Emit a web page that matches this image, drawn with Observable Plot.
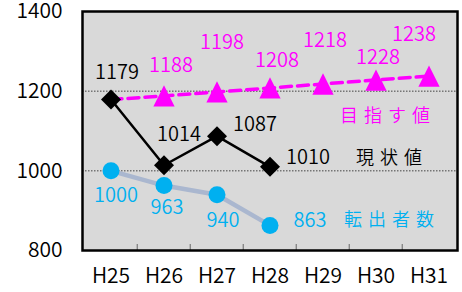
<!DOCTYPE html>
<html><head><meta charset="utf-8">
<script src="https://cdn.jsdelivr.net/npm/d3@7"></script>
<script src="https://cdn.jsdelivr.net/npm/@observablehq/plot@0.6"></script>
<style>body{margin:0;background:#fff} svg{display:block}</style>
</head><body><div id="chart"></div>
<script>
const years = ["H25","H26","H27","H28","H29","H30","H31"];
const targetValues = [1179,1188,1198,1208,1218,1228,1238];
const currentValues = [1179,1014,1087,1010];
const outflowValues = [1000,963,940,863];
const yTicks = [800,1000,1200,1400];
const gridValues = [1000,1200];
const seriesNames = ["目指す値","現状値","転出者数"];

const target = targetValues.map((v,i)=>({year:years[i], value:v, i}));
const current = currentValues.map((v,i)=>({year:years[i], value:v, i}));
const outflow = outflowValues.map((v,i)=>({year:years[i], value:v, i}));

const MAG = "#ff00ff", BLUE = "#00b0f0", FONT = "Noto Sans CJK JP";
const W = 462, H = 292, ML = 82, MR = 5, MT = 11, MB = 42;
const bw = (W - ML - MR) / years.length;

const triangle = {draw(ctx, size){ const h = Math.sqrt(size) * 0.6; ctx.moveTo(0,-h); ctx.lineTo(h,h); ctx.lineTo(-h,h); ctx.closePath(); }};

function lab(data, year, dx, dy, fill, fontSize=20) {
  return Plot.text(data.filter(d => d.year === year), {x:"year", y:"value", text: d => String(d.value), dx, dy, fill, fontSize, fontFamily: FONT});
}

const chart = Plot.plot({
  width: W, height: H,
  marginLeft: ML, marginRight: MR, marginTop: MT, marginBottom: MB,
  style: {fontFamily: FONT, fontSize: "21px", fontWeight: 350, color: "black", background: "white"},
  x: {type:"band", domain: years, padding: 0, tickSize: 0, tickPadding: 18, label: null},
  y: {domain: [800,1400], ticks: yTicks, tickSize: 0, tickPadding: 20, label: null, tickFormat: d => String(d)},
  marks: [
    Plot.frame({fill: "#d9d9d9"}),
    Plot.ruleY(gridValues, {stroke: "#444", strokeWidth: 1, strokeDasharray: "1.5,1.5"}),
    Plot.ruleX(years.slice(1), {x: d => d, dx: -bw/2, y1: 800, y2: 815, stroke: "#666", strokeWidth: 1}),
    Plot.line(outflow, {x:"year", y:"value", stroke:"#aab7cf", strokeWidth: 4.5}),
    Plot.line(target, {x:"year", y:"value", stroke: MAG, strokeWidth: 3.5, strokeDasharray: "11,6"}),
    Plot.line(current, {x:"year", y:"value", stroke:"black", strokeWidth: 2.5}),
    Plot.dot(outflow, {x:"year", y:"value", r: 8.5, fill: BLUE, stroke: "none"}),
    Plot.dot(target.filter(d => d.i > 0), {x:"year", y:"value", r: 10, symbol: triangle, fill: MAG, stroke: "none"}),
    Plot.dot(current, {x:"year", y:"value", r: 9, symbol: "diamond2", fill: "black", stroke: "none"}),
    Plot.frame({stroke: "black", strokeWidth: 2.5}),
    lab(current, "H25", 6, -27, "black"),
    lab(current, "H26", 15, -31, "black"),
    lab(current, "H27", 38, -12, "black"),
    lab(current, "H28", 38, -9, "black"),
    lab(target, "H26", 7, -30, MAG),
    lab(target, "H27", 5, -49, MAG),
    lab(target, "H28", 7, -27, MAG),
    lab(target, "H29", 2, -43, MAG),
    lab(target, "H30", 2, -22, MAG),
    lab(target, "H31", -15, -41, MAG),
    lab(outflow, "H25", 5, 25, BLUE),
    lab(outflow, "H26", 3, 22, BLUE),
    lab(outflow, "H27", 6, 26, BLUE),
    lab(outflow, "H28", 40, -5, BLUE),
    Plot.text(target.filter(d => d.year === "H31"), {x:"year", y:"value", text: () => seriesNames[0], dx: -41, dy: 40, fill: MAG, fontSize: 18, fontFamily: FONT}),
    Plot.text(current.filter(d => d.year === "H28"), {x:"year", y:"value", text: () => seriesNames[1], dx: 122, dy: -9, fill: "black", fontSize: 18, fontFamily: FONT}),
    Plot.text(outflow.filter(d => d.year === "H28"), {x:"year", y:"value", text: () => seriesNames[2], dx: 122, dy: -5, fill: BLUE, fontSize: 18, fontFamily: FONT})
  ]
});
d3.select(chart).selectAll("text").filter(function(){ return seriesNames.includes(this.textContent); }).style("letter-spacing", "6px");
document.getElementById("chart").appendChild(chart);
</script></body></html>
